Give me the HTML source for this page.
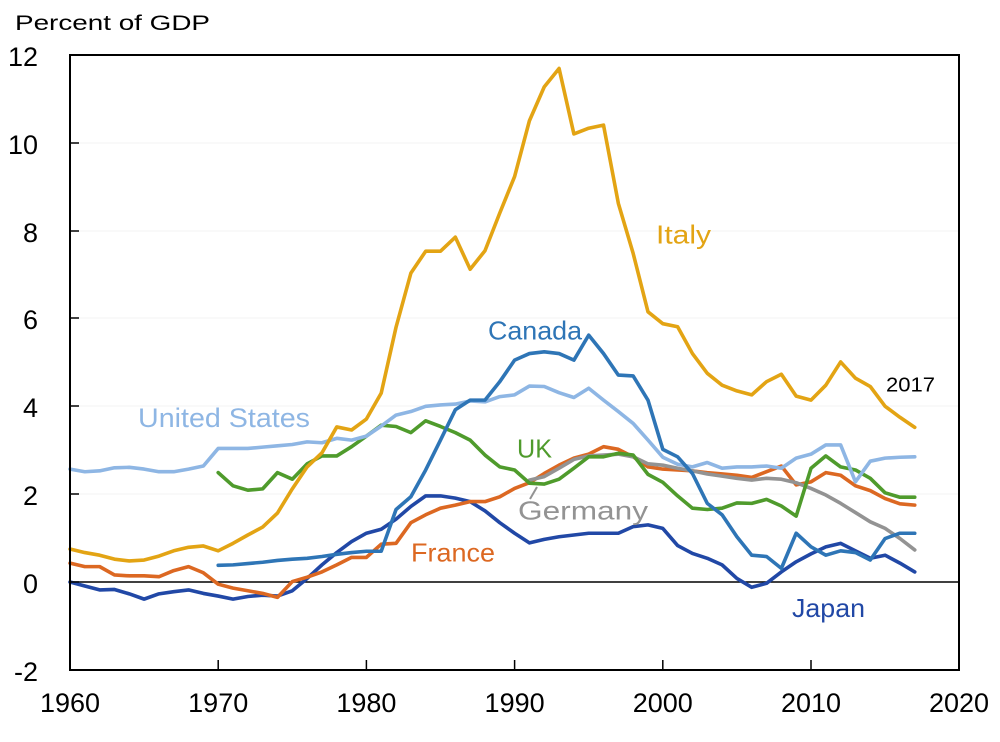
<!DOCTYPE html>
<html>
<head>
<meta charset="utf-8">
<style>
html,body{margin:0;padding:0;background:#fff;}
svg{display:block;}
text{font-family:"Liberation Sans",Arial,sans-serif;}
</style>
</head>
<body>
<svg width="1000" height="742" viewBox="0 0 1000 742" xmlns="http://www.w3.org/2000/svg">
<rect width="1000" height="742" fill="#fff"/>

<!-- faint gridlines -->
<g stroke="#f3f3f3" stroke-width="1">
<line x1="70" y1="143" x2="959" y2="143"/>
<line x1="70" y1="231" x2="959" y2="231"/>
<line x1="70" y1="318" x2="959" y2="318"/>
<line x1="70" y1="406" x2="959" y2="406"/>
<line x1="70" y1="494" x2="959" y2="494"/>
</g>

<!-- zero line -->
<line x1="70" y1="582" x2="959" y2="582" stroke="#000" stroke-width="1.4"/>

<!-- series -->
<g transform="translate(70,582) scale(14.82,-43.93)" fill="none" stroke-width="3.6" stroke-linejoin="round" stroke-linecap="round">
<!-- Japan -->
<polyline vector-effect="non-scaling-stroke" stroke="#2148A6" points="0,0 1,-0.09 2,-0.18 3,-0.17 4,-0.27 5,-0.39 6,-0.27 7,-0.22 8,-0.18 9,-0.26 10,-0.32 11,-0.39 12,-0.33 13,-0.3 14,-0.32 15,-0.2 16,0.08 17,0.39 18,0.67 19,0.92 20,1.11 21,1.2 22,1.43 23,1.72 24,1.96 25,1.96 26,1.91 27,1.83 28,1.62 29,1.35 30,1.11 31,0.89 32,0.97 33,1.03 34,1.07 35,1.11 36,1.11 37,1.11 38,1.26 39,1.3 40,1.22 41,0.83 42,0.65 43,0.54 44,0.39 45,0.08 46,-0.12 47,-0.03 48,0.23 49,0.46 50,0.64 51,0.8 52,0.88 53,0.71 54,0.54 55,0.61 56,0.43 57,0.23"/>
<!-- France -->
<polyline vector-effect="non-scaling-stroke" stroke="#DC6822" points="0,0.43 1,0.35 2,0.35 3,0.16 4,0.14 5,0.14 6,0.12 7,0.26 8,0.35 9,0.21 10,-0.05 11,-0.14 12,-0.2 13,-0.26 14,-0.35 15,0.01 16,0.11 17,0.23 18,0.39 19,0.56 20,0.56 21,0.86 22,0.88 23,1.35 24,1.53 25,1.68 26,1.75 27,1.83 28,1.83 29,1.94 30,2.13 31,2.26 32,2.47 33,2.66 34,2.82 35,2.91 36,3.08 37,3.02 38,2.85 39,2.62 40,2.57 41,2.55 42,2.53 43,2.49 44,2.46 45,2.43 46,2.38 47,2.51 48,2.64 49,2.21 50,2.28 51,2.49 52,2.43 53,2.19 54,2.08 55,1.9 56,1.78 57,1.75"/>
<!-- Germany -->
<polyline vector-effect="non-scaling-stroke" stroke="#939393" points="31,2.32 32,2.4 33,2.59 34,2.79 35,2.87 36,2.89 37,2.91 38,2.85 39,2.69 40,2.66 41,2.59 42,2.53 43,2.46 44,2.41 45,2.36 46,2.32 47,2.36 48,2.34 49,2.26 50,2.13 51,1.98 52,1.79 53,1.58 54,1.37 55,1.22 56,0.99 57,0.73"/>
<!-- UK -->
<polyline vector-effect="non-scaling-stroke" stroke="#4F9B2C" points="10,2.49 11,2.19 12,2.09 13,2.12 14,2.49 15,2.34 16,2.69 17,2.87 18,2.87 19,3.08 20,3.32 21,3.57 22,3.54 23,3.4 24,3.67 25,3.54 26,3.4 27,3.23 28,2.89 29,2.62 30,2.55 31,2.25 32,2.23 33,2.34 34,2.59 35,2.85 36,2.85 37,2.93 38,2.89 39,2.45 40,2.27 41,1.96 42,1.68 43,1.65 44,1.68 45,1.8 46,1.79 47,1.88 48,1.73 49,1.5 50,2.59 51,2.87 52,2.62 53,2.55 54,2.36 55,2.03 56,1.93 57,1.93"/>
<!-- United States -->
<polyline vector-effect="non-scaling-stroke" stroke="#8EB6E4" points="0,2.57 1,2.51 2,2.53 3,2.6 4,2.61 5,2.57 6,2.51 7,2.51 8,2.57 9,2.64 10,3.04 11,3.04 12,3.04 13,3.07 14,3.1 15,3.13 16,3.19 17,3.17 18,3.27 19,3.23 20,3.32 21,3.55 22,3.8 23,3.88 24,4.0 25,4.03 26,4.05 27,4.12 28,4.1 29,4.22 30,4.26 31,4.46 32,4.45 33,4.31 34,4.2 35,4.41 36,4.14 37,3.88 38,3.61 39,3.23 40,2.84 41,2.68 42,2.62 43,2.72 44,2.59 45,2.62 46,2.62 47,2.64 48,2.59 49,2.82 50,2.91 51,3.12 52,3.12 53,2.28 54,2.75 55,2.82 56,2.84 57,2.85"/>
<!-- Canada -->
<polyline vector-effect="non-scaling-stroke" stroke="#2E75B6" points="10,0.38 11,0.39 12,0.42 13,0.45 14,0.49 15,0.52 16,0.54 17,0.58 18,0.63 19,0.67 20,0.7 21,0.7 22,1.65 23,1.94 24,2.55 25,3.23 26,3.92 27,4.14 28,4.14 29,4.56 30,5.05 31,5.2 32,5.24 33,5.2 34,5.05 35,5.62 36,5.2 37,4.71 38,4.69 39,4.14 40,3.02 41,2.85 42,2.47 43,1.79 44,1.53 45,1.03 46,0.61 47,0.58 48,0.31 49,1.11 50,0.8 51,0.61 52,0.71 53,0.67 54,0.5 55,0.99 56,1.11 57,1.11"/>
<!-- Italy -->
<polyline vector-effect="non-scaling-stroke" stroke="#E3A414" points="0,0.75 1,0.67 2,0.61 3,0.52 4,0.48 5,0.5 6,0.59 7,0.71 8,0.79 9,0.82 10,0.71 11,0.88 12,1.07 13,1.25 14,1.57 15,2.12 16,2.62 17,2.94 18,3.53 19,3.46 20,3.71 21,4.3 22,5.8 23,7.03 24,7.53 25,7.53 26,7.85 27,7.12 28,7.54 29,8.4 30,9.23 31,10.5 32,11.27 33,11.69 34,10.2 35,10.33 36,10.4 37,8.62 38,7.48 39,6.15 40,5.88 41,5.81 42,5.2 43,4.75 44,4.48 45,4.35 46,4.26 47,4.56 48,4.73 49,4.23 50,4.14 51,4.48 52,5.01 53,4.64 54,4.45 55,4.0 56,3.75 57,3.52"/>
</g>

<!-- Germany leader line -->
<line x1="530" y1="499" x2="537" y2="487" stroke="#939393" stroke-width="2"/>

<!-- frame -->
<rect x="70" y="55" width="889" height="615" fill="none" stroke="#000" stroke-width="2"/>

<!-- y ticks -->
<g stroke="#000" stroke-width="1.5">
<line x1="70" y1="143" x2="79" y2="143"/>
<line x1="70" y1="231" x2="79" y2="231"/>
<line x1="70" y1="318" x2="79" y2="318"/>
<line x1="70" y1="406" x2="79" y2="406"/>
<line x1="70" y1="494" x2="79" y2="494"/>
<line x1="70" y1="582" x2="79" y2="582"/>
<!-- x ticks -->
<line x1="218.2" y1="670" x2="218.2" y2="660"/>
<line x1="366.4" y1="670" x2="366.4" y2="660"/>
<line x1="514.6" y1="670" x2="514.6" y2="660"/>
<line x1="662.8" y1="670" x2="662.8" y2="660"/>
<line x1="811" y1="670" x2="811" y2="660"/>
</g>

<!-- axis title -->
<text x="15" y="30" font-size="21" fill="#000" textLength="195" lengthAdjust="spacingAndGlyphs">Percent of GDP</text>

<!-- y tick labels -->
<g font-size="27" fill="#000" text-anchor="end">
<text x="38" y="66">12</text>
<text x="38" y="154">10</text>
<text x="38" y="242">8</text>
<text x="38" y="329">6</text>
<text x="38" y="417">4</text>
<text x="38" y="505">2</text>
<text x="38" y="593">0</text>
<text x="38" y="681">-2</text>
</g>

<!-- x tick labels -->
<g font-size="27" fill="#000" text-anchor="middle">
<text x="70" y="712">1960</text>
<text x="218.2" y="712">1970</text>
<text x="366.4" y="712">1980</text>
<text x="514.6" y="712">1990</text>
<text x="662.8" y="712">2000</text>
<text x="811" y="712">2010</text>
<text x="959" y="712">2020</text>
</g>

<!-- series labels -->
<text x="656" y="243.5" font-size="26" fill="#E3A414" textLength="55" lengthAdjust="spacingAndGlyphs">Italy</text>
<text x="488" y="339.5" font-size="26" fill="#2E75B6" textLength="94" lengthAdjust="spacingAndGlyphs">Canada</text>
<text x="138" y="427" font-size="27" fill="#8EB6E4" textLength="172" lengthAdjust="spacingAndGlyphs">United States</text>
<text x="517" y="457.3" font-size="26" fill="#4F9B2C" textLength="35" lengthAdjust="spacingAndGlyphs">UK</text>
<text x="518" y="519.5" font-size="26" fill="#939393" textLength="130" lengthAdjust="spacingAndGlyphs">Germany</text>
<text x="411" y="561.7" font-size="26" fill="#DC6822" textLength="84" lengthAdjust="spacingAndGlyphs">France</text>
<text x="792" y="617" font-size="26" fill="#2148A6" textLength="73" lengthAdjust="spacingAndGlyphs">Japan</text>
<text x="886" y="391.7" font-size="20" fill="#000" textLength="49" lengthAdjust="spacingAndGlyphs">2017</text>
</svg>
</body>
</html>
